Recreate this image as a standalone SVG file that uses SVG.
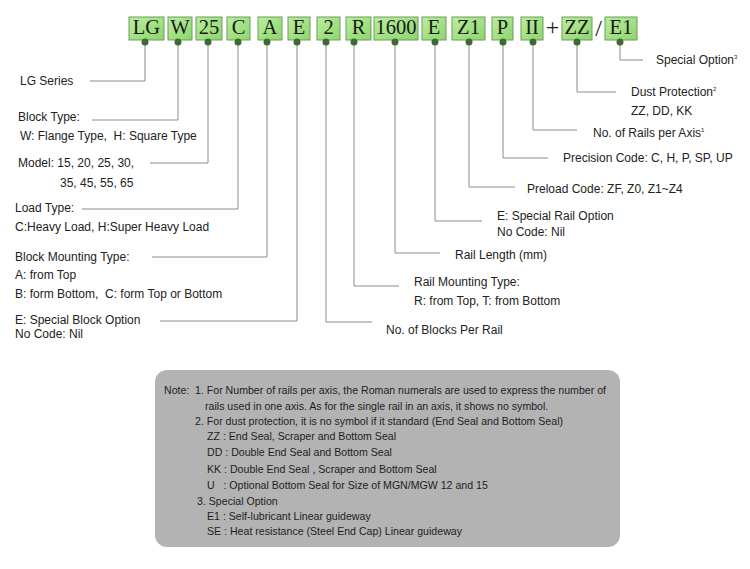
<svg xmlns="http://www.w3.org/2000/svg" width="750" height="569" viewBox="0 0 750 569">
<defs>
<linearGradient id="g" x1="0" y1="0" x2="1" y2="1">
<stop offset="0" stop-color="#b9ee9e"/>
<stop offset="1" stop-color="#8ed56b"/>
</linearGradient>
<style>
.bx{fill:url(#g);stroke:#6f9c60;stroke-width:1}
.code{font-family:"Liberation Serif",serif;font-size:20.5px;fill:#1a1a1a;text-anchor:middle}
.op{font-family:"Liberation Serif",serif;font-size:24px;fill:#1a1a1a;text-anchor:middle}
.dot{fill:#3d6a34}
.ln{fill:none;stroke:#8c8c8c;stroke-width:1}
.lb{font-family:"Liberation Sans",Arial,sans-serif;font-size:12px;fill:#222;white-space:pre}
.nt{font-family:"Liberation Sans",Arial,sans-serif;font-size:10.6px;fill:#1e1e1e;white-space:pre}
.sup{font-size:6px}
</style>
</defs>
<rect width="750" height="569" fill="#fff"/>
<g id="connectors">
<path class="ln" d="M145 42V81H90"/>
<path class="ln" d="M178 42V120H92"/>
<path class="ln" d="M208 42V163H150"/>
<path class="ln" d="M238 42V209H82"/>
<path class="ln" d="M267 42V257H152"/>
<path class="ln" d="M297 42V321H160"/>
<path class="ln" d="M326 42V322H372"/>
<path class="ln" d="M354 42V286H399"/>
<path class="ln" d="M395 42V253H440"/>
<path class="ln" d="M435 42V221H482"/>
<path class="ln" d="M469 42V187H515"/>
<path class="ln" d="M503 42V158H548"/>
<path class="ln" d="M533 42V130H577"/>
<path class="ln" d="M577 42V92H616"/>
<path class="ln" d="M620 42V60H643"/>
</g>
<g id="code">
<g id="c-lg"><rect class="bx" x="129" y="17" width="35" height="23"/><text class="code" x="146.5" y="34">LG</text><circle class="dot" cx="145" cy="42" r="3.5"/></g>
<g id="c-w"><rect class="bx" x="168" y="17" width="24" height="23"/><text class="code" x="180" y="34">W</text><circle class="dot" cx="178" cy="42" r="3.5"/></g>
<g id="c-25"><rect class="bx" x="196" y="17" width="26" height="23"/><text class="code" x="209" y="34">25</text><circle class="dot" cx="208" cy="42" r="3.5"/></g>
<g id="c-c"><rect class="bx" x="227" y="17" width="23" height="23"/><text class="code" x="238.5" y="34">C</text><circle class="dot" cx="238" cy="42" r="3.5"/></g>
<g id="c-a"><rect class="bx" x="258" y="17" width="24" height="23"/><text class="code" x="270" y="34">A</text><circle class="dot" cx="267" cy="42" r="3.5"/></g>
<g id="c-e"><rect class="bx" x="288" y="17" width="22" height="23"/><text class="code" x="299" y="34">E</text><circle class="dot" cx="297" cy="42" r="3.5"/></g>
<g id="c-2"><rect class="bx" x="317" y="17" width="23" height="23"/><text class="code" x="328.5" y="34">2</text><circle class="dot" cx="326" cy="42" r="3.5"/></g>
<g id="c-r"><rect class="bx" x="346" y="17" width="25" height="23"/><text class="code" x="358.5" y="34">R</text><circle class="dot" cx="354" cy="42" r="3.5"/></g>
<g id="c-1600"><rect class="bx" x="374" y="17" width="44" height="23"/><text class="code" x="396" y="34">1600</text><circle class="dot" cx="395" cy="42" r="3.5"/></g>
<g id="c-e2"><rect class="bx" x="422" y="17" width="24" height="23"/><text class="code" x="434" y="34">E</text><circle class="dot" cx="435" cy="42" r="3.5"/></g>
<g id="c-z1"><rect class="bx" x="452" y="17" width="33" height="23"/><text class="code" x="468.5" y="34">Z1</text><circle class="dot" cx="469" cy="42" r="3.5"/></g>
<g id="c-p"><rect class="bx" x="492" y="17" width="21" height="23"/><text class="code" x="502.5" y="34">P</text><circle class="dot" cx="503" cy="42" r="3.5"/></g>
<g id="c-ii"><rect class="bx" x="521" y="17" width="22" height="23"/><text class="code" x="532" y="34">II</text><circle class="dot" cx="533" cy="42" r="3.5"/></g>
<text class="op" x="552.5" y="35">+</text>
<g id="c-zz"><rect class="bx" x="562" y="17" width="30" height="23"/><text class="code" x="577" y="34">ZZ</text><circle class="dot" cx="577" cy="42" r="3.5"/></g>
<text class="op" x="598.5" y="36">/</text>
<g id="c-e1"><rect class="bx" x="605" y="17" width="32" height="23"/><text class="code" x="621" y="34">E1</text><circle class="dot" cx="620" cy="42" r="3.5"/></g>
</g>
<g id="labels-left">
<g id="l-series"><text class="lb" x="20" y="85">LG Series</text></g>
<g id="l-block"><text class="lb" x="18" y="121">Block Type:</text><text class="lb" x="20" y="140">W: Flange Type,  H: Square Type</text></g>
<g id="l-model"><text class="lb" x="18" y="167">Model: 15, 20, 25, 30,</text><text class="lb" x="60" y="187">35, 45, 55, 65</text></g>
<g id="l-load"><text class="lb" x="15" y="212">Load Type:</text><text class="lb" x="15" y="231">C:Heavy Load, H:Super Heavy Load</text></g>
<g id="l-mount"><text class="lb" x="15" y="261">Block Mounting Type:</text><text class="lb" x="15" y="279">A: from Top</text><text class="lb" x="15" y="298">B: form Bottom,  C: form Top or Bottom</text></g>
<g id="l-special"><text class="lb" x="15" y="324">E: Special Block Option</text><text class="lb" x="15" y="338">No Code: Nil</text></g>
</g>
<g id="labels-right">
<g id="r-special"><text class="lb" x="656" y="64">Special Option<tspan class="sup" dy="-5">3</tspan></text></g>
<g id="r-dust"><text class="lb" x="631" y="96">Dust Protection<tspan class="sup" dy="-5">2</tspan></text><text class="lb" x="631" y="115">ZZ, DD, KK</text></g>
<g id="r-rails"><text class="lb" x="593" y="137">No. of Rails per Axis<tspan class="sup" dy="-5">1</tspan></text></g>
<g id="r-prec"><text class="lb" x="563" y="162">Precision Code: C, H, P, SP, UP</text></g>
<g id="r-preload"><text class="lb" x="527" y="193">Preload Code: ZF, Z0, Z1~Z4</text></g>
<g id="r-srail"><text class="lb" x="497" y="220">E: Special Rail Option</text><text class="lb" x="497" y="236">No Code: Nil</text></g>
<g id="r-len"><text class="lb" x="455" y="259">Rail Length (mm)</text></g>
<g id="r-rmount"><text class="lb" x="414" y="286">Rail Mounting Type:</text><text class="lb" x="414" y="305">R: from Top, T: from Bottom</text></g>
<g id="r-blocks"><text class="lb" x="386" y="334">No. of Blocks Per Rail</text></g>
</g>
<g id="note">
<rect x="155" y="370" width="465" height="177" rx="12" fill="#b3b3b3"/>
<text class="nt" x="164" y="394">Note:</text>
<text class="nt" x="195" y="394">1. For Number of rails per axis, the Roman numerals are used to express the number of</text>
<text class="nt" x="205" y="410">rails used in one axis. As for the single rail in an axis, it shows no symbol.</text>
<text class="nt" x="195" y="425">2. For dust protection, it is no symbol if it standard (End Seal and Bottom Seal)</text>
<text class="nt" x="207" y="440">ZZ : End Seal, Scraper and Bottom Seal</text>
<text class="nt" x="207" y="456">DD : Double End Seal and Bottom Seal</text>
<text class="nt" x="207" y="473">KK : Double End Seal , Scraper and Bottom Seal</text>
<text class="nt" x="207" y="489">U   : Optional Bottom Seal for Size of MGN/MGW 12 and 15</text>
<text class="nt" x="197" y="505">3. Special Option</text>
<text class="nt" x="207" y="520">E1 : Self-lubricant Linear guideway</text>
<text class="nt" x="207" y="535">SE : Heat resistance (Steel End Cap) Linear guideway</text>
</g>
</svg>
